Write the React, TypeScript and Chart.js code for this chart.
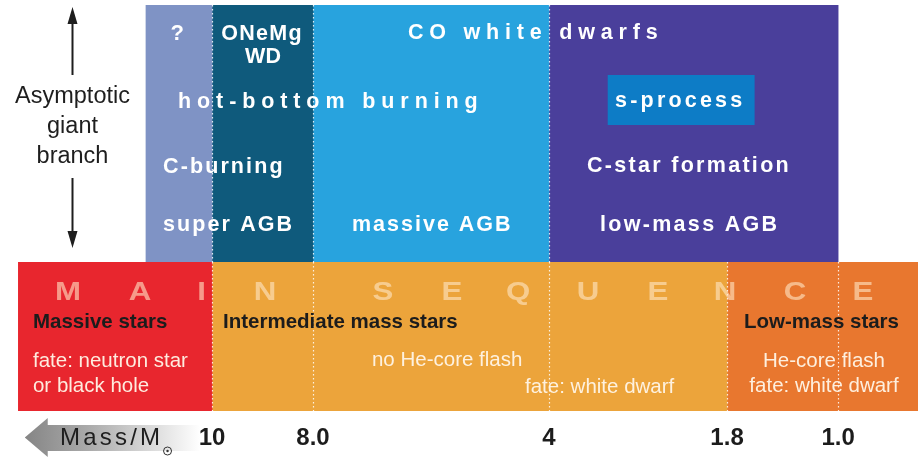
import React, { useEffect, useRef } from 'react';
import { Chart, registerables } from 'chart.js';

Chart.register(...registerables);

// Schematic mass axis (diagram units 0–100, mass decreasing to the right)
const massLabels = ['10', '8.0', '4', '1.8', '1.0'];
const massPositions = [23.1, 34.1, 59.8, 79.2, 91.3];

// Upper band: asymptotic giant branch regimes
const agbRegions = ['?', 'ONeMg WD', 'CO WD (massive AGB)', 'CO WD (low-mass AGB)'];
const agbStart = [15.9, 23.1, 34.1, 59.8];
const agbEnd = [23.1, 34.1, 59.8, 91.3];
const agbColors = ['#7f93c5', '#0f5a7c', '#28a3de', '#4a3f9b'];

// Lower band: main sequence regimes
const msRegions = ['Massive stars', 'Intermediate mass stars', 'Low-mass stars'];
const msStart = [2.0, 23.1, 79.2];
const msEnd = [23.1, 79.2, 100];
const msColors = ['#e8262e', '#eca43b', '#e8772f'];

const mainSequenceLetters = ['M', 'A', 'I', 'N', 'S', 'E', 'Q', 'U', 'E', 'N', 'C', 'E'];

const FONT = '"Liberation Sans", Arial, Helvetica, sans-serif';

type TOpts = { size: number; weight?: string; color: string; align?: CanvasTextAlign; spacing?: number };

function drawText(ctx: CanvasRenderingContext2D, s: string, x: number, y: number, o: TOpts) {
  ctx.save();
  ctx.font = `${o.weight || 'normal'} ${o.size}px ${FONT}`;
  ctx.fillStyle = o.color;
  ctx.textBaseline = 'alphabetic';
  ctx.textAlign = o.align || 'left';
  (ctx as any).letterSpacing = `${o.spacing || 0}px`;
  ctx.fillText(s, x, y);
  ctx.restore();
}

const overlayPlugin = {
  id: 'overlay',
  afterDatasetsDraw(chart: any) {
    const ctx: CanvasRenderingContext2D = chart.ctx;
    const xs = chart.scales.x;
    const yA = chart.scales.yAgb;
    const yM = chart.scales.yMs;
    const X = (u: number) => xs.getPixelForValue(u);
    const TA = (d: number) => yA.top + d;
    const TM = (d: number) => yM.top + d;
    const B = (d: number) => yM.bottom + d;

    ctx.save();

    // s-process highlight box
    ctx.fillStyle = '#0d7cc6';
    ctx.fillRect(X(66.2), TA(70), X(82.2) - X(66.2), 50);

    // dotted dividers
    ctx.strokeStyle = 'rgba(255,255,255,0.85)';
    ctx.lineWidth = 1.2;
    ctx.setLineDash([1.5, 2.5]);
    const vline = (px: number, y0: number, y1: number) => {
      const xx = Math.round(px) + 0.5;
      ctx.beginPath();
      ctx.moveTo(xx, y0);
      ctx.lineTo(xx, y1);
      ctx.stroke();
    };
    agbStart.slice(1).forEach((u) => vline(X(u), yA.top, yA.bottom));
    massPositions.forEach((u) => vline(X(u), yM.top, yM.bottom));
    ctx.setLineDash([]);

    // upper band labels
    const W = '#ffffff';
    drawText(ctx, '?', X(19.3), TA(35), { size: 22, weight: 'bold', color: W, align: 'center' });
    drawText(ctx, 'ONeMg', X(24.1), TA(35), { size: 21.5, weight: 'bold', color: W, spacing: 1.3 });
    drawText(ctx, 'WD', X(28.65), TA(58), { size: 21.5, weight: 'bold', color: W, align: 'center' });
    drawText(ctx, 'CO white dwarfs', X(44.44), TA(34), { size: 21.5, weight: 'bold', color: W, spacing: 5.8 });
    drawText(ctx, 'hot-bottom burning', X(19.39), TA(103), { size: 21.5, weight: 'bold', color: W, spacing: 5.9 });
    drawText(ctx, 's-process', X(67.0), TA(102), { size: 21.5, weight: 'bold', color: W, spacing: 3.2 });
    drawText(ctx, 'C-burning', X(17.76), TA(168), { size: 21.5, weight: 'bold', color: W, spacing: 2.1 });
    drawText(ctx, 'C-star formation', X(63.94), TA(167), { size: 21.5, weight: 'bold', color: W, spacing: 2.3 });
    drawText(ctx, 'super AGB', X(17.76), TA(226), { size: 21.5, weight: 'bold', color: W, spacing: 2.1 });
    drawText(ctx, 'massive AGB', X(38.34), TA(226), { size: 21.5, weight: 'bold', color: W, spacing: 2.0 });
    drawText(ctx, 'low-mass AGB', X(65.36), TA(226), { size: 21.5, weight: 'bold', color: W, spacing: 2.3 });

    // MAIN SEQUENCE letters
    const letterPos = [7.41, 15.25, 21.97, 28.87, 41.72, 49.24, 56.43, 64.05, 71.68, 78.98, 86.6, 94.01];
    mainSequenceLetters.forEach((ch, i) => {
      ctx.save();
      ctx.translate(X(letterPos[i]), TM(38));
      ctx.scale(1.2, 1);
      ctx.font = `900 26px ${FONT}`;
      ctx.textAlign = 'center';
      ctx.textBaseline = 'alphabetic';
      ctx.fillStyle = 'rgba(255,232,200,0.6)';
      ctx.fillText(ch, 0, 0);
      ctx.restore();
    });

    // lower band labels
    const K = '#1c1c1c';
    const C = 'rgba(255,246,232,0.95)';
    drawText(ctx, msRegions[0], X(3.59), TM(66), { size: 20.5, weight: 'bold', color: K });
    drawText(ctx, msRegions[1], X(24.29), TM(66), { size: 20.5, weight: 'bold', color: K });
    drawText(ctx, msRegions[2], X(81.05), TM(66), { size: 20.5, weight: 'bold', color: K });
    drawText(ctx, 'fate: neutron star', X(3.59), TM(105), { size: 20.5, color: C });
    drawText(ctx, 'or black hole', X(3.59), TM(130), { size: 20.5, color: C });
    drawText(ctx, 'no He-core flash', X(40.52), TM(104), { size: 20.5, color: C });
    drawText(ctx, 'fate: white dwarf', X(57.19), TM(131), { size: 20.5, color: C });
    drawText(ctx, 'He-core flash', X(89.76), TM(105), { size: 20.5, color: C, align: 'center' });
    drawText(ctx, 'fate: white dwarf', X(89.76), TM(130), { size: 20.5, color: C, align: 'center' });

    // left annotation: Asymptotic giant branch with arrows
    const ax = Math.round(X(7.84)) + 0.5;
    ctx.strokeStyle = '#1e1e1e';
    ctx.fillStyle = '#1e1e1e';
    ctx.lineWidth = 2;
    ctx.beginPath();
    ctx.moveTo(ax, TA(70));
    ctx.lineTo(ax, TA(14));
    ctx.moveTo(ax, TA(173));
    ctx.lineTo(ax, TA(231));
    ctx.stroke();
    ctx.beginPath();
    ctx.moveTo(ax, TA(2));
    ctx.lineTo(ax - 5, TA(19));
    ctx.lineTo(ax + 5, TA(19));
    ctx.closePath();
    ctx.fill();
    ctx.beginPath();
    ctx.moveTo(ax, TA(243));
    ctx.lineTo(ax - 5, TA(226));
    ctx.lineTo(ax + 5, TA(226));
    ctx.closePath();
    ctx.fill();
    drawText(ctx, 'Asymptotic', ax, TA(98), { size: 23.5, color: '#1e1e1e', align: 'center' });
    drawText(ctx, 'giant', ax, TA(128), { size: 23.5, color: '#1e1e1e', align: 'center' });
    drawText(ctx, 'branch', ax, TA(158), { size: 23.5, color: '#1e1e1e', align: 'center' });

    // mass arrow below the axis
    const tipX = X(2.7);
    const headX = X(5.2);
    const endX = X(21.8);
    const grad = ctx.createLinearGradient(tipX, 0, endX, 0);
    grad.addColorStop(0, '#858585');
    grad.addColorStop(0.35, '#a9a9a9');
    grad.addColorStop(1, '#ffffff');
    ctx.fillStyle = grad;
    ctx.beginPath();
    ctx.moveTo(tipX, B(26.5));
    ctx.lineTo(headX, B(7));
    ctx.lineTo(headX, B(14));
    ctx.lineTo(endX, B(14));
    ctx.lineTo(endX, B(40));
    ctx.lineTo(headX, B(40));
    ctx.lineTo(headX, B(46));
    ctx.closePath();
    ctx.fill();
    drawText(ctx, 'Mass/M', X(6.54), B(34), { size: 24, color: '#1e1e1e', spacing: 3.2 });
    const sx = X(18.25);
    ctx.strokeStyle = '#333';
    ctx.lineWidth = 1;
    ctx.beginPath();
    ctx.arc(sx, B(40), 4, 0, Math.PI * 2);
    ctx.stroke();
    ctx.fillStyle = '#333';
    ctx.beginPath();
    ctx.arc(sx, B(40), 1.2, 0, Math.PI * 2);
    ctx.fill();

    ctx.restore();
  },
};

export default function App() {
  const ref = useRef<HTMLCanvasElement | null>(null);

  useEffect(() => {
    if (!ref.current) return;
    const datasets: any[] = [
      ...agbRegions.map((name, i) => ({
        label: name,
        data: [[agbStart[i], agbEnd[i]]],
        yAxisID: 'yAgb',
        backgroundColor: agbColors[i],
      })),
      ...msRegions.map((name, i) => ({
        label: name,
        data: [[msStart[i], msEnd[i]]],
        yAxisID: 'yMs',
        backgroundColor: msColors[i],
      })),
    ].map((d) => ({
      ...d,
      xAxisID: 'x',
      borderWidth: 0,
      grouped: false,
      barPercentage: 1,
      categoryPercentage: 1,
    }));

    const hiddenBand = {
      type: 'category',
      position: 'left',
      stack: 'bands',
      offset: true,
      grid: { display: false, drawTicks: false },
      border: { display: false },
      ticks: { display: false },
    };

    const chart = new Chart(ref.current, {
      type: 'bar',
      data: { datasets },
      options: {
        indexAxis: 'y',
        responsive: false,
        animation: false,
        events: [],
        layout: { padding: { top: 5, left: 0, right: 0, bottom: 0 } },
        plugins: { legend: { display: false }, tooltip: { enabled: false } },
        scales: {
          x: {
            type: 'linear',
            position: 'bottom',
            min: 0,
            max: 100,
            grid: { display: false, drawTicks: false },
            border: { display: false },
            afterBuildTicks: (scale: any) => {
              scale.ticks = massPositions.map((v) => ({ value: v }));
            },
            afterFit: (scale: any) => {
              scale.height = 47;
            },
            ticks: {
              autoSkip: false,
              maxRotation: 0,
              padding: 12.5,
              color: '#1c1c1c',
              font: { family: FONT, size: 24, weight: 'bold' },
              callback: (_v: any, i: number) => massLabels[i],
            },
          },
          yAgb: { ...hiddenBand, labels: ['AGB'], stackWeight: 257, weight: 2 },
          yMs: { ...hiddenBand, labels: ['MS'], stackWeight: 149, weight: 1 },
        } as any,
      },
      plugins: [overlayPlugin],
    } as any);

    return () => chart.destroy();
  }, []);

  return (
    <div style={{ position: 'absolute', left: 0, top: 0, width: 918, height: 458, background: '#ffffff' }}>
      <canvas ref={ref} width={918} height={458} style={{ display: 'block' }} />
    </div>
  );
}
